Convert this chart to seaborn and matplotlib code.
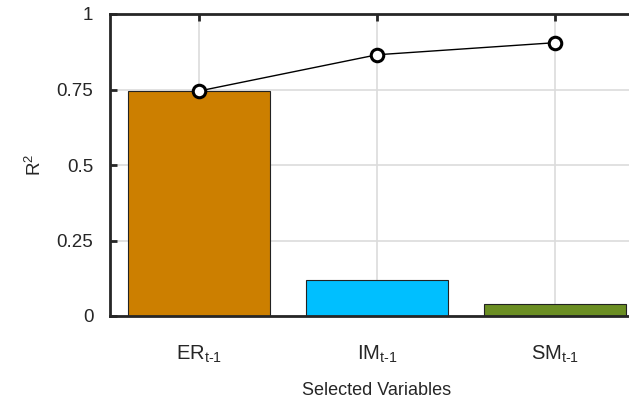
import numpy as np
import pandas as pd
import matplotlib
matplotlib.use("Agg")
import matplotlib.pyplot as plt
import seaborn as sns

# дані з графіка
variables = ["ER", "IM", "SM"]
tick_labels = [r"ER$_{\mathrm{t\text{-}1}}$", r"IM$_{\mathrm{t\text{-}1}}$", r"SM$_{\mathrm{t\text{-}1}}$"]
r2_single = [0.745, 0.12, 0.04]
r2_cumulative = [0.745, 0.865, 0.905]
bar_colors = ["#CC7F00", "#00BFFF", "#6B8E23"]

sns.set_style("white")
plt.rcParams["font.family"] = ["Liberation Sans", "DejaVu Sans"]
plt.rcParams["mathtext.fontset"] = "custom"
plt.rcParams["mathtext.rm"] = "Liberation Sans"
plt.rcParams["mathtext.it"] = "Liberation Sans"

df = pd.DataFrame({"var": variables, "r2": r2_single, "cum": r2_cumulative})

fig = plt.figure(figsize=(6.29, 4.01), dpi=100)
ax = fig.add_axes([110 / 629, 85 / 401, 534 / 629, 302 / 401])

sns.barplot(data=df, x="var", y="r2", hue="var", palette=bar_colors,
            saturation=1, width=0.8, edgecolor="#222222", linewidth=0.8,
            legend=False, ax=ax)

# сітка після barplot, бо seaborn вимикає її для категоріальної осі
ax.grid(True, axis="both", color="#dcdcdc", linewidth=1.2)
ax.set_axisbelow(True)

ax.plot(np.arange(len(variables)), df["cum"], color="black", linewidth=1,
        marker="o", markersize=9, markerfacecolor="white",
        markeredgecolor="black", markeredgewidth=2.2, zorder=5, clip_on=False)

ax.set_xlim(-0.5, 2.5)
ax.set_ylim(0, 1)
ax.set_yticks([0, 0.25, 0.5, 0.75, 1])
ax.set_yticklabels(["0", "0.25", "0.5", "0.75", "1"])
ax.set_xticks(range(3))
ax.set_xticklabels(tick_labels)

for side in ["left", "top", "bottom"]:
    ax.spines[side].set_visible(True)
    ax.spines[side].set_linewidth(2)
    ax.spines[side].set_color("#262626")
ax.spines["right"].set_visible(False)

ax.tick_params(axis="both", direction="in", length=5, width=2, color="#262626",
               labelcolor="#262626")
ax.tick_params(axis="x", top=True, bottom=True, labelsize=14.5, pad=20)
ax.tick_params(axis="y", left=True, labelsize=13.5, pad=12)

ax.set_xlabel("Selected Variables", fontsize=13, color="#262626", labelpad=12)
ax.set_ylabel(r"R$^2$", fontsize=13.5, color="#262626", labelpad=8)

plt.savefig("out.png", dpi=100)
